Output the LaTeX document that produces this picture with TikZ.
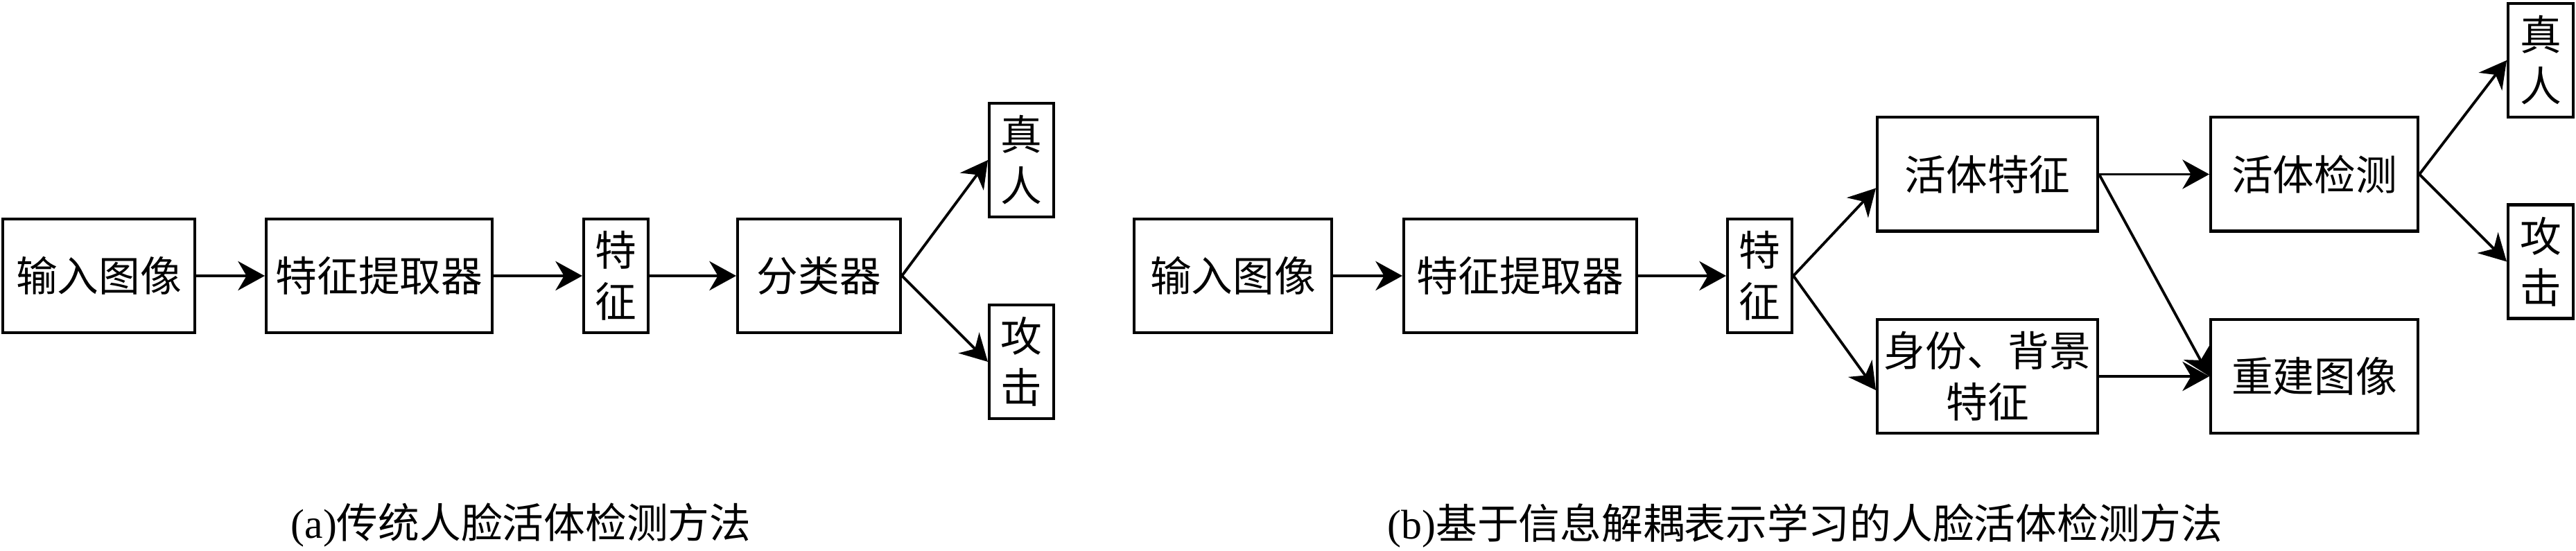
\documentclass[tikz,border=0pt]{standalone}
\usepackage{fontspec}
\setmainfont{Liberation Serif}
\newfontfamily\cjk{Noto Sans CJK SC}
\usetikzlibrary{arrows.meta}

\begin{document}
\begin{tikzpicture}
[arrowDecorate/.style={-{Stealth[length=11pt,width=12pt,inset=3.5pt]},line width=1.1pt},%
  boxDecorate/.style={shape=rectangle,draw,line width=1.15pt,inner sep=0pt,
    minimum height=1.64cm,align=center,font=\cjk\fontsize{17pt}{21pt}\selectfont}]
\useasboundingbox (0,0) rectangle (37.16,7.95);
%% blocks
\foreach \nodename/\x/\y/\w/\nodetext in {
  inA/1.425/3.97/2.77/{输入图像}, extA/5.47/3.97/3.26/{特征提取器},
  featA/8.885/3.97/0.93/{特\\征}, clsA/11.815/3.97/2.35/{分类器},
  realA/14.735/5.64/0.93/{真\\人}, atkA/14.735/2.73/0.93/{攻\\击},
  inB/17.785/3.97/2.85/{输入图像}, extB/21.93/3.97/3.36/{特征提取器},
  featB/25.385/3.97/0.93/{特\\征},
  liveB/28.67/5.435/3.18/{活体特征}, idB/28.67/2.52/3.18/{身份、背景\\特征},
  detB/33.385/5.435/2.99/{活体检测}, recB/33.385/2.52/2.99/{重建图像},
  realB/36.65/7.08/0.94/{真\\人}, atkB/36.65/4.175/0.94/{攻\\击}}
{
  \node (\nodename) at (\x,\y) [boxDecorate,minimum width=\w cm] {\nodetext};
}
%% arrows
\path
\foreach \startnode/\endnode in {
  inA.east/extA.west, extA.east/featA.west, featA.east/clsA.west,
  clsA.east/realA.west, clsA.east/atkA.west,
  inB.east/extB.west, extB.east/featB.west,
  liveB.east/detB.west, liveB.east/recB.west, idB.east/recB.west,
  detB.east/realB.west, detB.east/atkB.west}
{
  (\startnode) edge[arrowDecorate] (\endnode)
}
%% split after the feature
(featB.east) edge[arrowDecorate] ([yshift=-0.2cm]liveB.west)
(featB.east) edge[arrowDecorate] ([yshift=-0.2cm]idB.west);
%% captions
\node (capA) at (7.515,0.37) {\fontsize{17pt}{21pt}\selectfont(a)\cjk 传统人脸活体检测方法};
\node (capB) at (26.04,0.37) {\fontsize{17pt}{21pt}\selectfont(b)\cjk 基于信息解耦表示学习的人脸活体检测方法};
\end{tikzpicture}
\end{document}
